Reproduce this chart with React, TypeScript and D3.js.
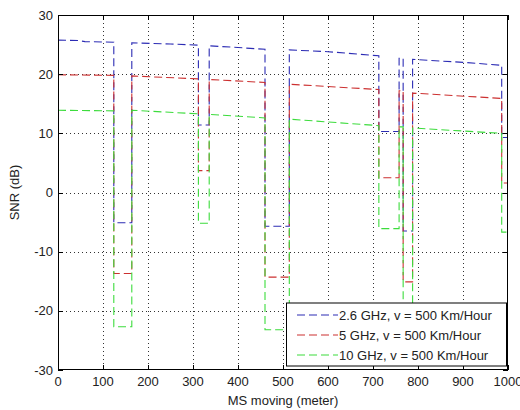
import React from "react";
import * as d3 from "d3";

// MS position along the route (meter) and SNR (dB) for each carrier frequency
const pos26 = [0, 44, 60, 124, 124, 164, 164, 250, 312, 312, 336, 336, 400, 460, 460, 514, 514, 600, 713, 713, 758, 758, 767, 767, 788, 788, 900, 986, 986, 1000];
const snr26 = [25.75, 25.7, 25.5, 25.4, -5.1, -5.1, 25.3, 25.1, 24.9, 11.4, 11.4, 24.8, 24.5, 24.2, -5.7, -5.7, 24.1, 23.8, 23.1, 10.3, 10.3, 22.7, 22.7, -6.5, -6.5, 22.5, 22.0, 21.5, 9.3, 9.3];

const pos5 = [0, 124, 124, 164, 164, 312, 312, 336, 336, 460, 460, 514, 514, 713, 713, 758, 758, 767, 767, 788, 788, 986, 986, 1000];
const snr5 = [19.9, 19.8, -13.7, -13.7, 19.7, 19.2, 3.7, 3.7, 19.1, 18.6, -14.3, -14.3, 18.3, 17.4, 2.5, 2.5, 17.2, 17.2, -15.1, -15.1, 16.8, 15.9, 1.6, 1.6];

const pos10 = [0, 124, 124, 164, 164, 312, 312, 336, 336, 460, 460, 514, 514, 713, 713, 758, 758, 767, 767, 788, 788, 986, 986, 1000];
const snr10 = [13.9, 13.8, -22.7, -22.7, 13.9, 13.3, -5.2, -5.2, 13.2, 12.6, -23.2, -23.2, 12.4, 11.3, -6.1, -6.1, 11.1, 11.1, -24, -24, 10.9, 10.0, -6.7, -6.7];

const seriesNames = [
  "2.6 GHz, v = 500 Km/Hour",
  "5 GHz, v = 500 Km/Hour",
  "10 GHz, v = 500 Km/Hour",
];
const seriesColors = ["#2c2cb4", "#cc3030", "#3ddc3d"];

const xTicks = [0, 100, 200, 300, 400, 500, 600, 700, 800, 900, 1000];
const yTicks = [-30, -20, -10, 0, 10, 20, 30];

const W = 520;
const H = 410;
const left = 58;
const right = 508;
const top = 15;
const bottom = 370;
const FONT = "'Liberation Sans', Arial, sans-serif";

export default function App() {
  const x = d3.scaleLinear().domain([0, 1000]).range([left, right]);
  const y = d3.scaleLinear().domain([-30, 30]).range([bottom, top]);

  const series = [
    { xs: pos26, ys: snr26 },
    { xs: pos5, ys: snr5 },
    { xs: pos10, ys: snr10 },
  ];

  const line = d3
    .line<[number, number]>()
    .x((d) => x(d[0]))
    .y((d) => y(d[1]));

  const tickLen = 5;
  const dash = "8,4";

  // legend box
  const lgX = 286;
  const lgY = 302.5;
  const lgW = 220;
  const lgH = 63;
  const rowH = 20;

  return (
    <svg
      width={W}
      height={H}
      style={{ position: "absolute", left: 0, top: 0, background: "#fff" }}
      fontFamily={FONT}
    >
      <rect x={0} y={0} width={W} height={H} fill="#fff" />
      {/* grid */}
      <g stroke="#333" strokeWidth={1} strokeDasharray="1,3">
        {xTicks
          .filter((t) => t > 0 && t < 1000)
          .map((t) => (
            <line key={"gx" + t} x1={Math.round(x(t)) + 0.5} x2={Math.round(x(t)) + 0.5} y1={top} y2={bottom} />
          ))}
        {yTicks
          .filter((t) => t > -30 && t < 30)
          .map((t) => (
            <line key={"gy" + t} x1={left} x2={right} y1={Math.round(y(t)) + 0.5} y2={Math.round(y(t)) + 0.5} />
          ))}
      </g>

      {/* data */}
      <g fill="none" strokeWidth={1.1} strokeDasharray={dash}>
        {series.map((s, i) => (
          <path
            key={i}
            d={line(s.xs.map((v, k) => [v, s.ys[k]] as [number, number])) || ""}
            stroke={seriesColors[i]}
          />
        ))}
      </g>

      {/* axes box and ticks */}
      <g stroke="#000" strokeWidth={1}>
        <rect x={left + 0.5} y={top + 0.5} width={right - left - 1} height={bottom - top - 1} fill="none" />
        {xTicks.map((t) => {
          const px = Math.round(x(t)) + 0.5;
          return (
            <g key={"tx" + t}>
              <line x1={px} x2={px} y1={bottom} y2={bottom - tickLen} />
              <line x1={px} x2={px} y1={top} y2={top + tickLen} />
            </g>
          );
        })}
        {yTicks.map((t) => {
          const py = Math.round(y(t)) + 0.5;
          return (
            <g key={"ty" + t}>
              <line x1={left} x2={left + tickLen} y1={py} y2={py} />
              <line x1={right} x2={right - tickLen} y1={py} y2={py} />
            </g>
          );
        })}
      </g>

      {/* tick labels */}
      <g fontSize={13} fill="#222">
        {xTicks.map((t) => (
          <text key={"lx" + t} x={x(t)} y={386} textAnchor="middle">
            {t}
          </text>
        ))}
        {yTicks.map((t) => (
          <text key={"ly" + t} x={53} y={y(t) + 4.5} textAnchor="end">
            {t}
          </text>
        ))}
      </g>

      {/* axis titles */}
      <text x={(left + right) / 2} y={405} textAnchor="middle" fontSize={13} fill="#222">
        MS moving (meter)
      </text>
      <text
        transform={`translate(19, ${(top + bottom) / 2}) rotate(-90)`}
        textAnchor="middle"
        fontSize={13}
        fill="#222"
      >
        SNR (dB)
      </text>

      {/* legend */}
      <g>
        <rect x={lgX + 0.5} y={lgY + 0.5} width={lgW} height={lgH} fill="#fff" stroke="#000" strokeWidth={1} />
        {seriesNames.map((name, i) => {
          const cy = lgY + 12.5 + i * rowH;
          return (
            <g key={"lg" + i}>
              <line
                x1={297}
                x2={338}
                y1={cy}
                y2={cy}
                stroke={seriesColors[i]}
                strokeWidth={1.1}
                strokeDasharray={dash}
              />
              <text x={339} y={cy + 4.5} fontSize={13} fill="#222">
                {name}
              </text>
            </g>
          );
        })}
      </g>
    </svg>
  );
}
